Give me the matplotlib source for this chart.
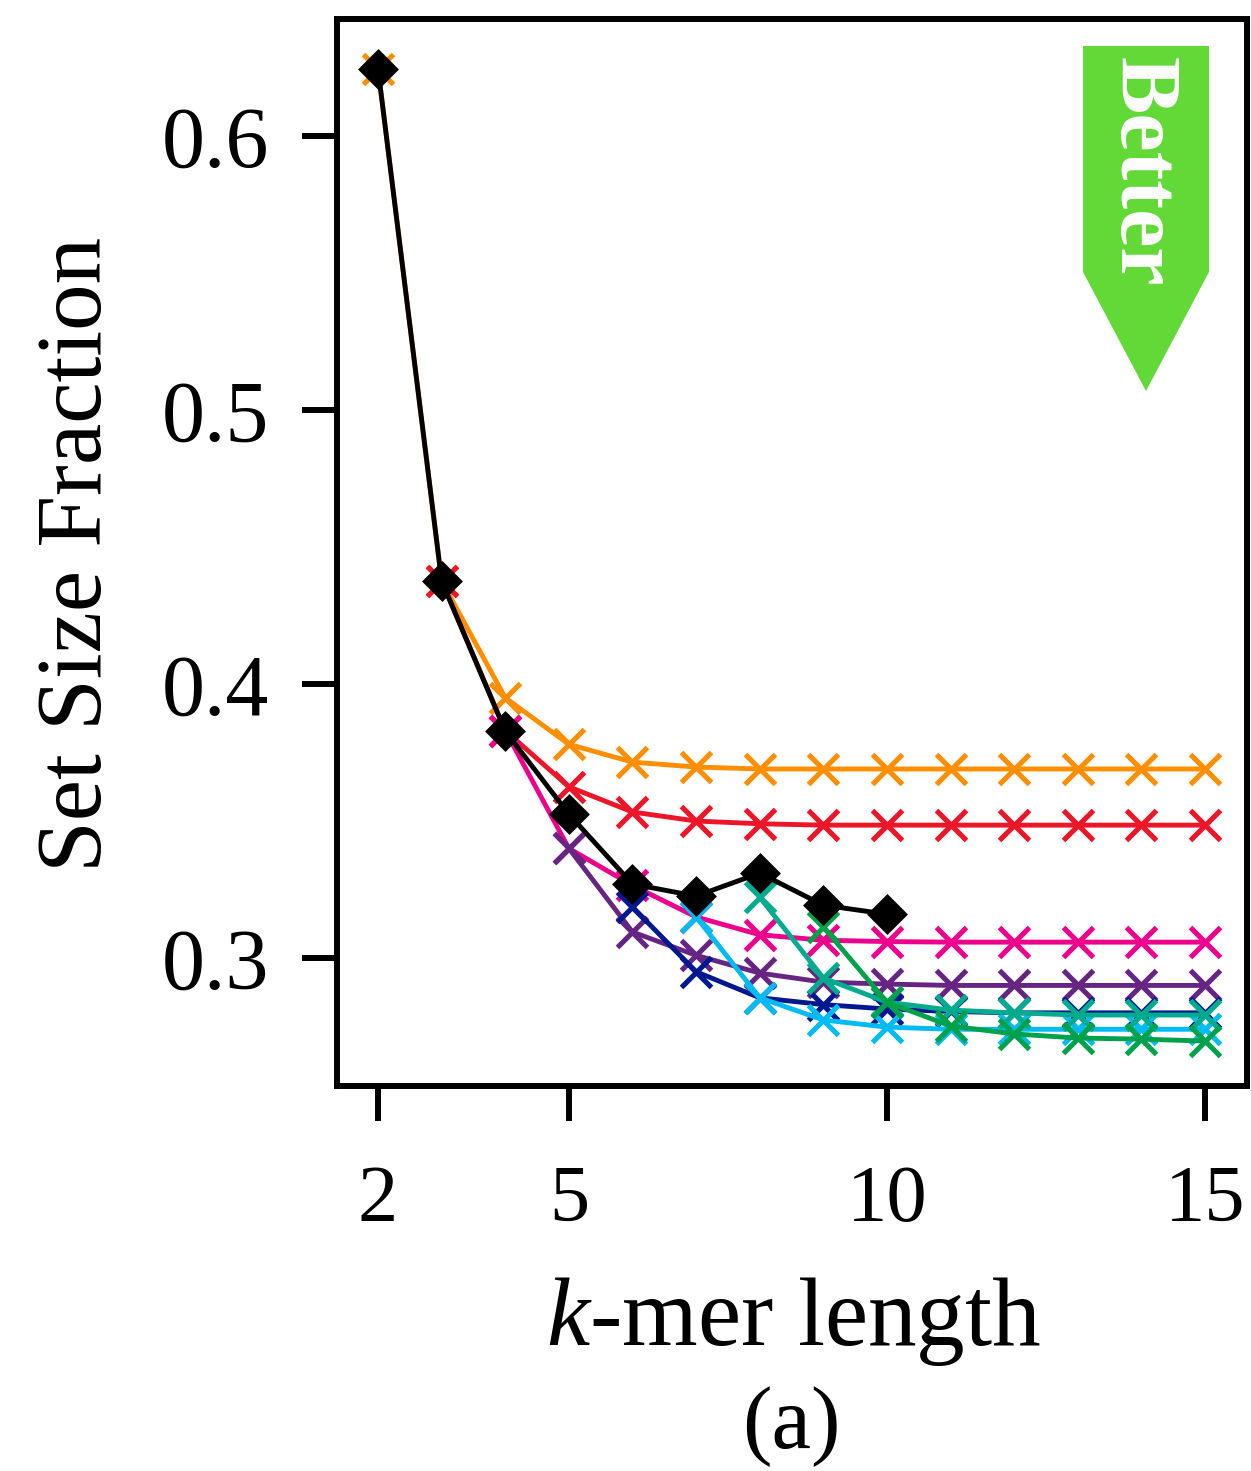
"""
Set size fraction vs k-mer length, panel (a).
Each scheme is a line with x markers; the black diamonds go on top.
"""

import matplotlib
matplotlib.use('Agg')
import matplotlib.pyplot as plt
from matplotlib.patches import Polygon

plt.rcParams['font.family'] = ['Liberation Serif', 'DejaVu Serif']
plt.rcParams['mathtext.fontset'] = 'custom'
plt.rcParams['mathtext.it'] = 'Liberation Serif:italic'
plt.rcParams['mathtext.rm'] = 'Liberation Serif'

W, H = 1251, 1471

orange_k = list(range(2, 16))
orange_y = [0.6245, 0.4376, 0.395, 0.378, 0.3715, 0.3697, 0.369, 0.369, 0.369, 0.369, 0.369, 0.369, 0.369, 0.369]

red_k = list(range(3, 16))
red_y = [0.4376, 0.383, 0.3625, 0.3533, 0.350, 0.349, 0.3485, 0.3485, 0.3485, 0.3485, 0.3485, 0.3485, 0.3485]

magenta_k = list(range(4, 16))
magenta_y = [0.383, 0.340, 0.3265, 0.315, 0.3085, 0.3065, 0.306, 0.3058, 0.3058, 0.3058, 0.3058, 0.3058]

purple_k = list(range(5, 16))
purple_y = [0.340, 0.3095, 0.301, 0.2945, 0.2912, 0.2905, 0.290, 0.290, 0.290, 0.290, 0.290]

navy_k = list(range(6, 16))
navy_y = [0.3186, 0.295, 0.2855, 0.283, 0.2814, 0.2805, 0.280, 0.280, 0.280, 0.280]

cyan_k = list(range(7, 16))
cyan_y = [0.315, 0.2855, 0.2774, 0.2748, 0.274, 0.274, 0.274, 0.274, 0.274]

teal_k = list(range(8, 16))
teal_y = [0.3222, 0.2927, 0.2839, 0.281, 0.280, 0.2792, 0.2792, 0.2792]

green_k = list(range(9, 16))
green_y = [0.3113, 0.2839, 0.2752, 0.2723, 0.2708, 0.2704, 0.2697]

black_k = list(range(2, 11))
black_y = [0.6245, 0.4376, 0.3828, 0.3525, 0.327, 0.3226, 0.331, 0.3193, 0.316]

series = [
    (orange_k, orange_y, '#ff8f00'),
    (red_k, red_y, '#ed1528'),
    (magenta_k, magenta_y, '#ec008c'),
    (purple_k, purple_y, '#662583'),
    (navy_k, navy_y, '#00188f'),
    (cyan_k, cyan_y, '#00bcf2'),
    (teal_k, teal_y, '#00ab8e'),
    (green_k, green_y, '#00a14b'),
]

x_ticks = [2, 5, 10, 15]
y_ticks = [0.3, 0.4, 0.5, 0.6]

fig = plt.figure(figsize=(W / 100, H / 100), dpi=100)
ax = fig.add_axes([337 / W, 1 - 1086 / H, (1247 - 337) / W, (1086 - 19) / H])

for k, y, c in series:
    ax.plot(k, y, color=c, lw=3.5, marker='x', ms=21.5, mew=3.7)

ax.plot(black_k, black_y, color='black', lw=3.5, marker='D', ms=18.5,
        mfc='black', mec='black', mew=2.5, solid_joinstyle='round')

ax.set_xlim(1.355, 15.66)
ax.set_ylim(0.2533, 0.6427)
ax.set_xticks(x_ticks)
ax.set_yticks(y_ticks)
ax.set_yticklabels(['0.3', '0.4', '0.5', '0.6'])
ax.tick_params(axis='both', length=25, width=4.3, color='black')
ax.tick_params(axis='x', pad=32, labelsize=58)
ax.tick_params(axis='y', pad=24, labelsize=62)
for s in ax.spines.values():
    s.set_linewidth(4.3)

ax.set_ylabel('Set Size Fraction', fontsize=67, va='center')
ax.yaxis.set_label_coords(-0.2846, 0.4986)

fig.text(793 / W, 1 - 1345 / H, '$k$-mer length', fontsize=70, ha='center', va='baseline')
fig.text(791 / W, 1 - 1448 / H, '(a)', fontsize=64, ha='center', va='baseline')

# "Better" arrow, placed in figure pixels
arrow = Polygon([(1083 / W, 1 - 46 / H), (1209 / W, 1 - 46 / H), (1209 / W, 1 - 272 / H),
                 (1146 / W, 1 - 391 / H), (1083 / W, 1 - 272 / H)],
                closed=True, transform=fig.transFigure, fc='#62d936', ec='none', zorder=5)
ax.add_patch(arrow)
ax.text(1140 / W, 1 - 172 / H, 'Better', transform=fig.transFigure, rotation=-90,
        fontsize=62, fontweight='bold', color='white', ha='center', va='center', zorder=6)

fig.savefig('out.png', dpi=100)
plt.close(fig)
